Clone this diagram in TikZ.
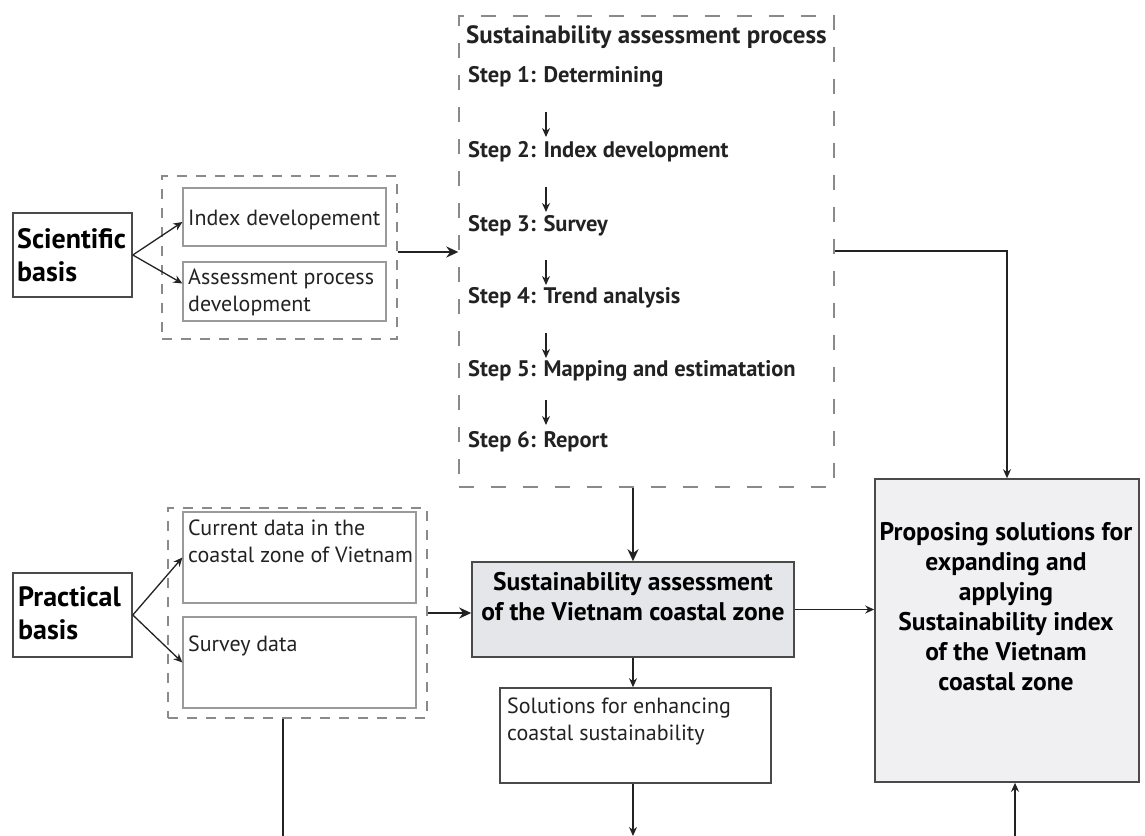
\documentclass[tikz,border=0pt]{standalone}
\usepackage{fontspec}
\setmainfont{PT Sans}
\usetikzlibrary{arrows.meta,calc}
\definecolor{linec}{HTML}{222222}
\definecolor{innerc}{HTML}{9A9A9A}
\definecolor{dashc}{HTML}{8A8A8A}
\definecolor{darkc}{HTML}{4A4A4A}
\definecolor{fillA}{HTML}{E5E6E9}
\definecolor{fillB}{HTML}{F0F0F3}
\begin{document}
\begin{tikzpicture}[x=1pt,y=-1pt,
  innerbox/.style={draw=innerc,line width=1.2pt,rectangle,inner sep=0pt},
  darkbox/.style={draw=darkc,line width=1.6pt,rectangle,inner sep=0pt},
  grpbox/.style={draw=dashc,line width=1.4pt,dash pattern=on 10pt off 9pt,rectangle,inner sep=0pt},
  stepsbox/.style={draw=dashc,line width=1.4pt,dash pattern=on 15pt off 17pt,rectangle,inner sep=0pt},
  smalltxt/.style={inner sep=0pt,align=left,font=\fontsize{22}{26.5}\selectfont,text=linec},
  steptxt/.style={inner sep=0pt,font=\bfseries\fontsize{22.5}{26}\selectfont,text=linec},
  bigtxt/.style={inner sep=0pt,align=left,font=\bfseries\fontsize{28}{33}\selectfont,text=black},
  midtxt/.style={inner sep=0pt,align=center,font=\bfseries\fontsize{25.5}{30}\selectfont,text=black},
  sarrow/.style={-{Stealth[length=9pt,width=8pt]},draw=linec,line width=1.3pt},
  barrow/.style={-{Stealth[length=12pt,width=11pt]},draw=linec,line width=2pt},
  plain/.style={draw=linec,line width=1.3pt}]
\useasboundingbox (0,0) rectangle (1145,835);

% Scientific basis
\node[darkbox,minimum width=119pt,minimum height=84pt] (sci) at (72.5,255) {};
\node[bigtxt,anchor=west] (scit) at (17,255) {Scientific\\basis};
\node[grpbox,minimum width=235pt,minimum height=163pt] (grp1) at (279.5,257.5) {};
\node[innerbox,minimum width=203pt,minimum height=58pt] (idx) at (284.5,217) {};
\node[smalltxt,anchor=west] (idxt) at (188,220) {Index developement};
\node[innerbox,minimum width=203pt,minimum height=59pt] (ass) at (284.5,291.5) {};
\node[smalltxt,anchor=west] (asst) at (188,292.5) {Assessment process\\development};
\draw[sarrow] (sci.east) -- ($(idx.west)+(0,5)$);
\draw[sarrow] (sci.east) -- ($(ass.west)+(0,-8)$);

% Steps
\node[stepsbox,minimum width=375pt,minimum height=471pt] (steps) at (646.5,251.5) {};
\node[steptxt,anchor=base west,font=\bfseries\fontsize{25}{28}\selectfont] (title) at (466,43) {Sustainability assessment process};
\node[steptxt,anchor=base west] (s1) at (468,82) {Step 1: Determining};
\node[steptxt,anchor=base west] (s2) at (468,157) {Step 2: Index development};
\node[steptxt,anchor=base west] (s3) at (468,231) {Step 3: Survey};
\node[steptxt,anchor=base west] (s4) at (468,303) {Step 4: Trend analysis};
\node[steptxt,anchor=base west] (s5) at (468,376) {Step 5: Mapping and estimatation};
\node[steptxt,anchor=base west] (s6) at (468,447) {Step 6: Report};
\draw[sarrow] ($(s1.base west)+(78,30)$) -- ($(s2.base west)+(78,-20)$);
\draw[sarrow] ($(s2.base west)+(78,30)$) -- ($(s3.base west)+(78,-19)$);
\draw[sarrow] ($(s3.base west)+(78,29)$) -- ($(s4.base west)+(78,-18)$);
\draw[sarrow] ($(s4.base west)+(78,30)$) -- ($(s5.base west)+(78,-18)$);
\draw[sarrow] ($(s5.base west)+(78,24)$) -- ($(s6.base west)+(78,-22)$);
\draw[barrow] (grp1.east |- 0,252) -- (steps.west |- 0,252);

% Practical basis
\node[darkbox,minimum width=119pt,minimum height=84pt] (pra) at (72.5,615) {};
\node[bigtxt,anchor=west] (prat) at (18,613) {Practical\\basis};
\node[grpbox,minimum width=259pt,minimum height=210pt] (grp2) at (297.5,613) {};
\node[innerbox,minimum width=233pt,minimum height=91pt] (cur) at (299.5,557.5) {};
\node[smalltxt,anchor=west] (curt) at (188,541.5) {Current data in the\\coastal zone of Vietnam};
\node[innerbox,minimum width=233pt,minimum height=91pt] (sur) at (299.5,662.5) {};
\node[smalltxt,anchor=west] (surt) at (188,646) {Survey data};
\draw[sarrow] (pra.east) -- (cur.west);
\draw[sarrow] (pra.east) -- (sur.west);

% Central
\node[darkbox,fill=fillA,minimum width=322pt,minimum height=95pt] (sust) at (633,609.5) {};
\node[midtxt] (sustt) at (633,597) {Sustainability assessment\\of the Vietnam coastal zone};
\node[darkbox,fill=white,minimum width=271pt,minimum height=95pt] (sol) at (635.5,735.5) {};
\node[smalltxt,anchor=west] (solt) at (507,721.5) {Solutions for enhancing\\coastal sustainability};
\draw[barrow] (sust.north |- steps.south) -- (sust.north);
\draw[barrow] (grp2.east) -- (sust.west |- grp2.east);
\draw[sarrow] (sust.south) -- (sust.south |- sol.north);
\coordinate (bot1) at (633,836);
\draw[sarrow] (sol.south -| bot1) -- (bot1);

% Proposing
\node[darkbox,fill=fillB,minimum width=264pt,minimum height=303pt] (prop) at (1007,630.5) {};
\node[midtxt] (propt) at (1006,607) {Proposing solutions for\\expanding and\\applying\\Sustainability index\\of the Vietnam\\coastal zone};
\draw[sarrow] (steps.east |- 0,251) -| (prop.north);
\draw[sarrow] (sust.east) -- (prop.west |- sust.east);
\coordinate (bot3) at (1015,836);
\draw[sarrow] (bot3) -- (bot3 |- prop.south);
\coordinate (bot2) at (283,836);
\draw[plain] (grp2.south -| bot2) -- (bot2);
\end{tikzpicture}
\end{document}
